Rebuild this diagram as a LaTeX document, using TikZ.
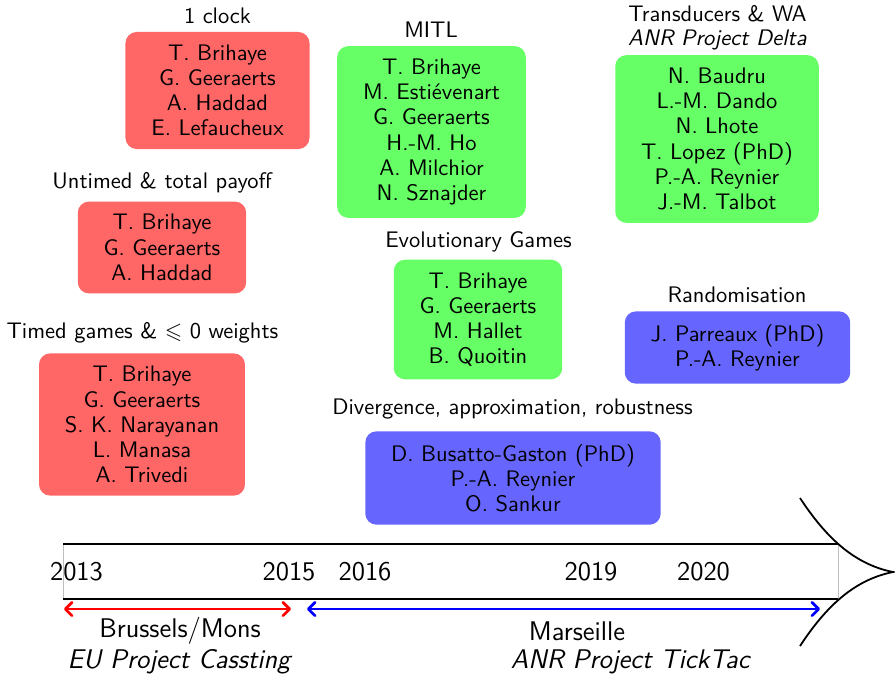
\documentclass[tikz,border=0pt]{standalone}
\usepackage{fontspec}
\usepackage{amssymb}
\usetikzlibrary{arrows.meta}
\begin{document}
\begin{tikzpicture}[x=0.01563cm,y=-0.01563cm, font=\sffamily,
  team/.style={rounded corners=5pt, align=center, inner xsep=11.5pt, inner ysep=5.7pt,
    font=\sffamily\fontsize{10}{11.2}\selectfont},
  redteam/.style={team, fill=red!60},
  greenteam/.style={team, fill=green!60},
  blueteam/.style={team, fill=blue!60},
  topic/.style={align=center, font=\sffamily\fontsize{10}{10.5}\selectfont},
  big/.style={font=\sffamily\large},
  span/.style={very thick, {Straight Barb[round,length=3pt,width=6pt]}-{Straight Barb[round,length=3pt,width=6pt]}}]
\useasboundingbox (0,0) rectangle (895,674);
\coordinate (tl) at (63,544);
\coordinate (tr) at (838,544);
\coordinate (bl) at (63,599);
\coordinate (br) at (838,599);
\coordinate (headtop) at (800,498);
\coordinate (tip) at (893,572);
\coordinate (headbot) at (800,646);
\coordinate (r0) at (64,609);
\coordinate (r1) at (291,609);
\coordinate (b0) at (307,609);
\coordinate (b1) at (820,609);

  % timeline
  \draw[gray!50] (tl) rectangle (br);
  \draw[thick] (tl) -- (tr);
  \draw[thick] (bl) -- (br);
  \draw[thick] (headtop) .. controls (825,536) and (853,564) .. (tip) .. controls (853,580) and (825,608) .. (headbot);
  \node[big] (y2013) at (76.5,572) {2013};
  \node[big] (y2015) at (289,572) {2015};
  \node[big] (y2016) at (365,572) {2016};
  \node[big] (y2019) at (591,572) {2019};
  \node[big] (y2020) at (703.5,572) {2020};
  \draw[span, red] (r0) -- (r1);
  \draw[span, blue] (b0) -- (b1);
  \node[big] (brussels) at (180,631) {Brussels/Mons};
  \node[big] (cassting) at (180,662) {\textit{EU Project Cassting}};
  \node[big] (marseille) at (577,631) {Marseille};
  \node[big] (ticktac) at (631,662) {\textit{ANR Project TickTac}};

  % collaborations
  \node[redteam] (clock) at (217.5,90.5) {T. Brihaye\\G. Geeraerts\\A. Haddad\\E. Lefaucheux};
  \node[topic] (clocklbl) at (217.5,16) {1 clock};
  \node[redteam] (untimed) at (162,247.5) {T. Brihaye\\G. Geeraerts\\A. Haddad};
  \node[topic] (untimedlbl) at (162,183) {Untimed \& total payoff};
  \node[redteam] (timed) at (142,424.5) {T. Brihaye\\G. Geeraerts\\S. K. Narayanan\\L. Manasa\\A. Trivedi};
  \node[topic] (timedlbl) at (142.5,333) {Timed games \& $\leqslant$ 0 weights};
  \node[greenteam] (mitl) at (431.5,132) {T. Brihaye\\M. Estiévenart\\G. Geeraerts\\H.-M. Ho\\A. Milchior\\N. Sznajder};
  \node[topic] (mitllbl) at (431,30) {MITL};
  \node[greenteam] (evol) at (478,319.5) {T. Brihaye\\G. Geeraerts\\M. Hallet\\B. Quoitin};
  \node[topic] (evollbl) at (478.5,242) {Evolutionary Games};
  \node[blueteam] (diverg) at (513,478) {D. Busatto-Gaston (PhD)\\P.-A. Reynier\\O. Sankur};
  \node[topic] (diverglbl) at (512.5,409) {Divergence, approximation, robustness};
  \node[greenteam] (transd) at (717,139) {N. Baudru\\L.-M. Dando\\N. Lhote\\T. Lopez (PhD)\\P.-A. Reynier\\J.-M. Talbot};
  \node[topic] (transdlbl) at (717.5,27.5) {Transducers \& WA\\\textit{ANR Project Delta}};
  \node[blueteam] (random) at (737.5,347.5) {J. Parreaux (PhD)\\P.-A. Reynier};
  \node[topic] (randomlbl) at (737,295) {Randomisation};
\end{tikzpicture}
\end{document}
